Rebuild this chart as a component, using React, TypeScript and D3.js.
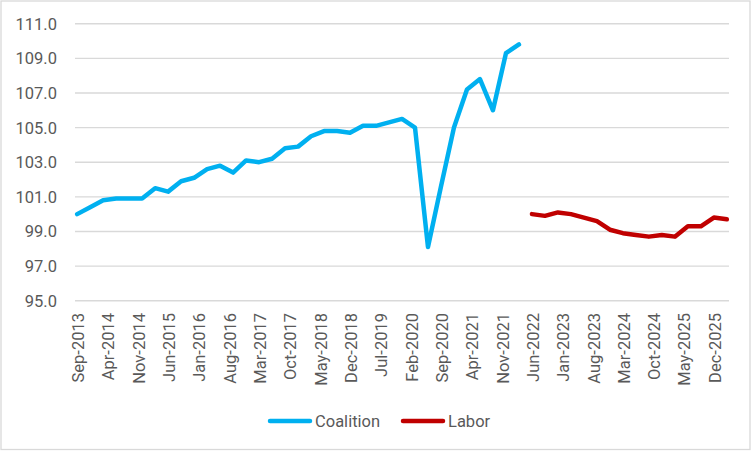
import React, { useEffect } from "react";
import * as d3 from "d3";

const coalitionStart = "Sep-2013";
const coalitionValues = [
  100.0, 100.4, 100.8, 100.9, 100.9, 100.9, 101.5, 101.3, 101.9, 102.1, 102.6, 102.8,
  102.4, 103.1, 103.0, 103.2, 103.8, 103.9, 104.5, 104.8, 104.8, 104.7, 105.1, 105.1,
  105.3, 105.5, 105.0, 98.1, 101.6, 105.0, 107.2, 107.8, 106.0, 109.3, 109.8,
];
const laborStart = "Jun-2022";
const laborValues = [
  100.0, 99.9, 100.1, 100.0, 99.8, 99.6, 99.1, 98.9, 98.8, 98.7, 98.8, 98.7, 99.3, 99.3,
  99.8, 99.7,
];
const xTickLabels = [
  "Sep-2013", "Apr-2014", "Nov-2014", "Jun-2015", "Jan-2016", "Aug-2016", "Mar-2017",
  "Oct-2017", "May-2018", "Dec-2018", "Jul-2019", "Feb-2020", "Sep-2020", "Apr-2021",
  "Nov-2021", "Jun-2022", "Jan-2023", "Aug-2023", "Mar-2024", "Oct-2024", "May-2025",
  "Dec-2025",
];
const yTicks = [95, 97, 99, 101, 103, 105, 107, 109, 111];
const seriesNames = ["Coalition", "Labor"];
const seriesColors = ["#00B0F0", "#C00000"];

const W = 752;
const H = 452;
const FONT = "Roboto, 'Liberation Sans', Arial, sans-serif";
const TEXT = "#595959";
const GRID = "#D9D9D9";

const parse = d3.timeParse("%b-%Y");
const base = parse(coalitionStart) as Date;
const monthIdx = (s: string) => {
  const d = parse(s) as Date;
  return (d.getFullYear() - base.getFullYear()) * 12 + d.getMonth() - base.getMonth();
};

type Pt = { m: number; v: number };
const toPts = (start: string, vals: number[]): Pt[] => {
  const s = monthIdx(start);
  return vals.map((v, i) => ({ m: s + i * 3, v }));
};

const coalitionPts = toPts(coalitionStart, coalitionValues);
const laborPts = toPts(laborStart, laborValues);
const lastM = laborPts[laborPts.length - 1].m;

const x = d3.scaleLinear().domain([-0.5, lastM + 0.5]).range([75, 729]);
const y = d3.scaleLinear().domain([95, 111]).range([300.7, 23.7]);

const line = d3
  .line<Pt>()
  .x((d) => x(d.m))
  .y((d) => y(d.v));

export default function App() {
  useEffect(() => {
    document.body.style.margin = "0";
  }, []);
  const series = [coalitionPts, laborPts];
  const legendX = [268, 401];
  return (
    <svg
      width={W}
      height={H}
      style={{ display: "block", position: "absolute", left: 0, top: 0, background: "#fff" }}
      fontFamily={FONT}
    >
      <rect x={0} y={0} width={W} height={H} fill="#fff" />
      <rect x={1} y={1} width={749} height={448.5} fill="none" stroke={GRID} strokeWidth={1.3} />
      {yTicks.map((t) => (
        <g key={t}>
          <line x1={75} x2={729} y1={y(t)} y2={y(t)} stroke={GRID} strokeWidth={1.4} />
          <text
            x={57}
            y={y(t)}
            dy="0.36em"
            textAnchor="end"
            fontSize={16.5}
            fill={TEXT}
          >
            {d3.format(".1f")(t)}
          </text>
        </g>
      ))}
      {xTickLabels.map((lab) => {
        const px = x(monthIdx(lab));
        return (
          <text
            key={lab}
            transform={`translate(${px + 1},313) rotate(-90)`}
            dy="0.36em"
            textAnchor="end"
            fontSize={16.5}
            fill={TEXT}
          >
            {lab}
          </text>
        );
      })}
      {series.map((pts, i) => (
        <path
          key={i}
          d={line(pts) || ""}
          fill="none"
          stroke={seriesColors[i]}
          strokeWidth={4.5}
          strokeLinejoin="round"
          strokeLinecap="round"
        />
      ))}
      {seriesNames.map((n, i) => (
        <g key={n}>
          <line
            x1={legendX[i] + 2}
            x2={legendX[i] + 42}
            y1={421}
            y2={421}
            stroke={seriesColors[i]}
            strokeWidth={4.5}
            strokeLinecap="round"
          />
          <text x={legendX[i] + 47} y={421} dy="0.36em" fontSize={16.5} fill={TEXT}>
            {n}
          </text>
        </g>
      ))}
    </svg>
  );
}
